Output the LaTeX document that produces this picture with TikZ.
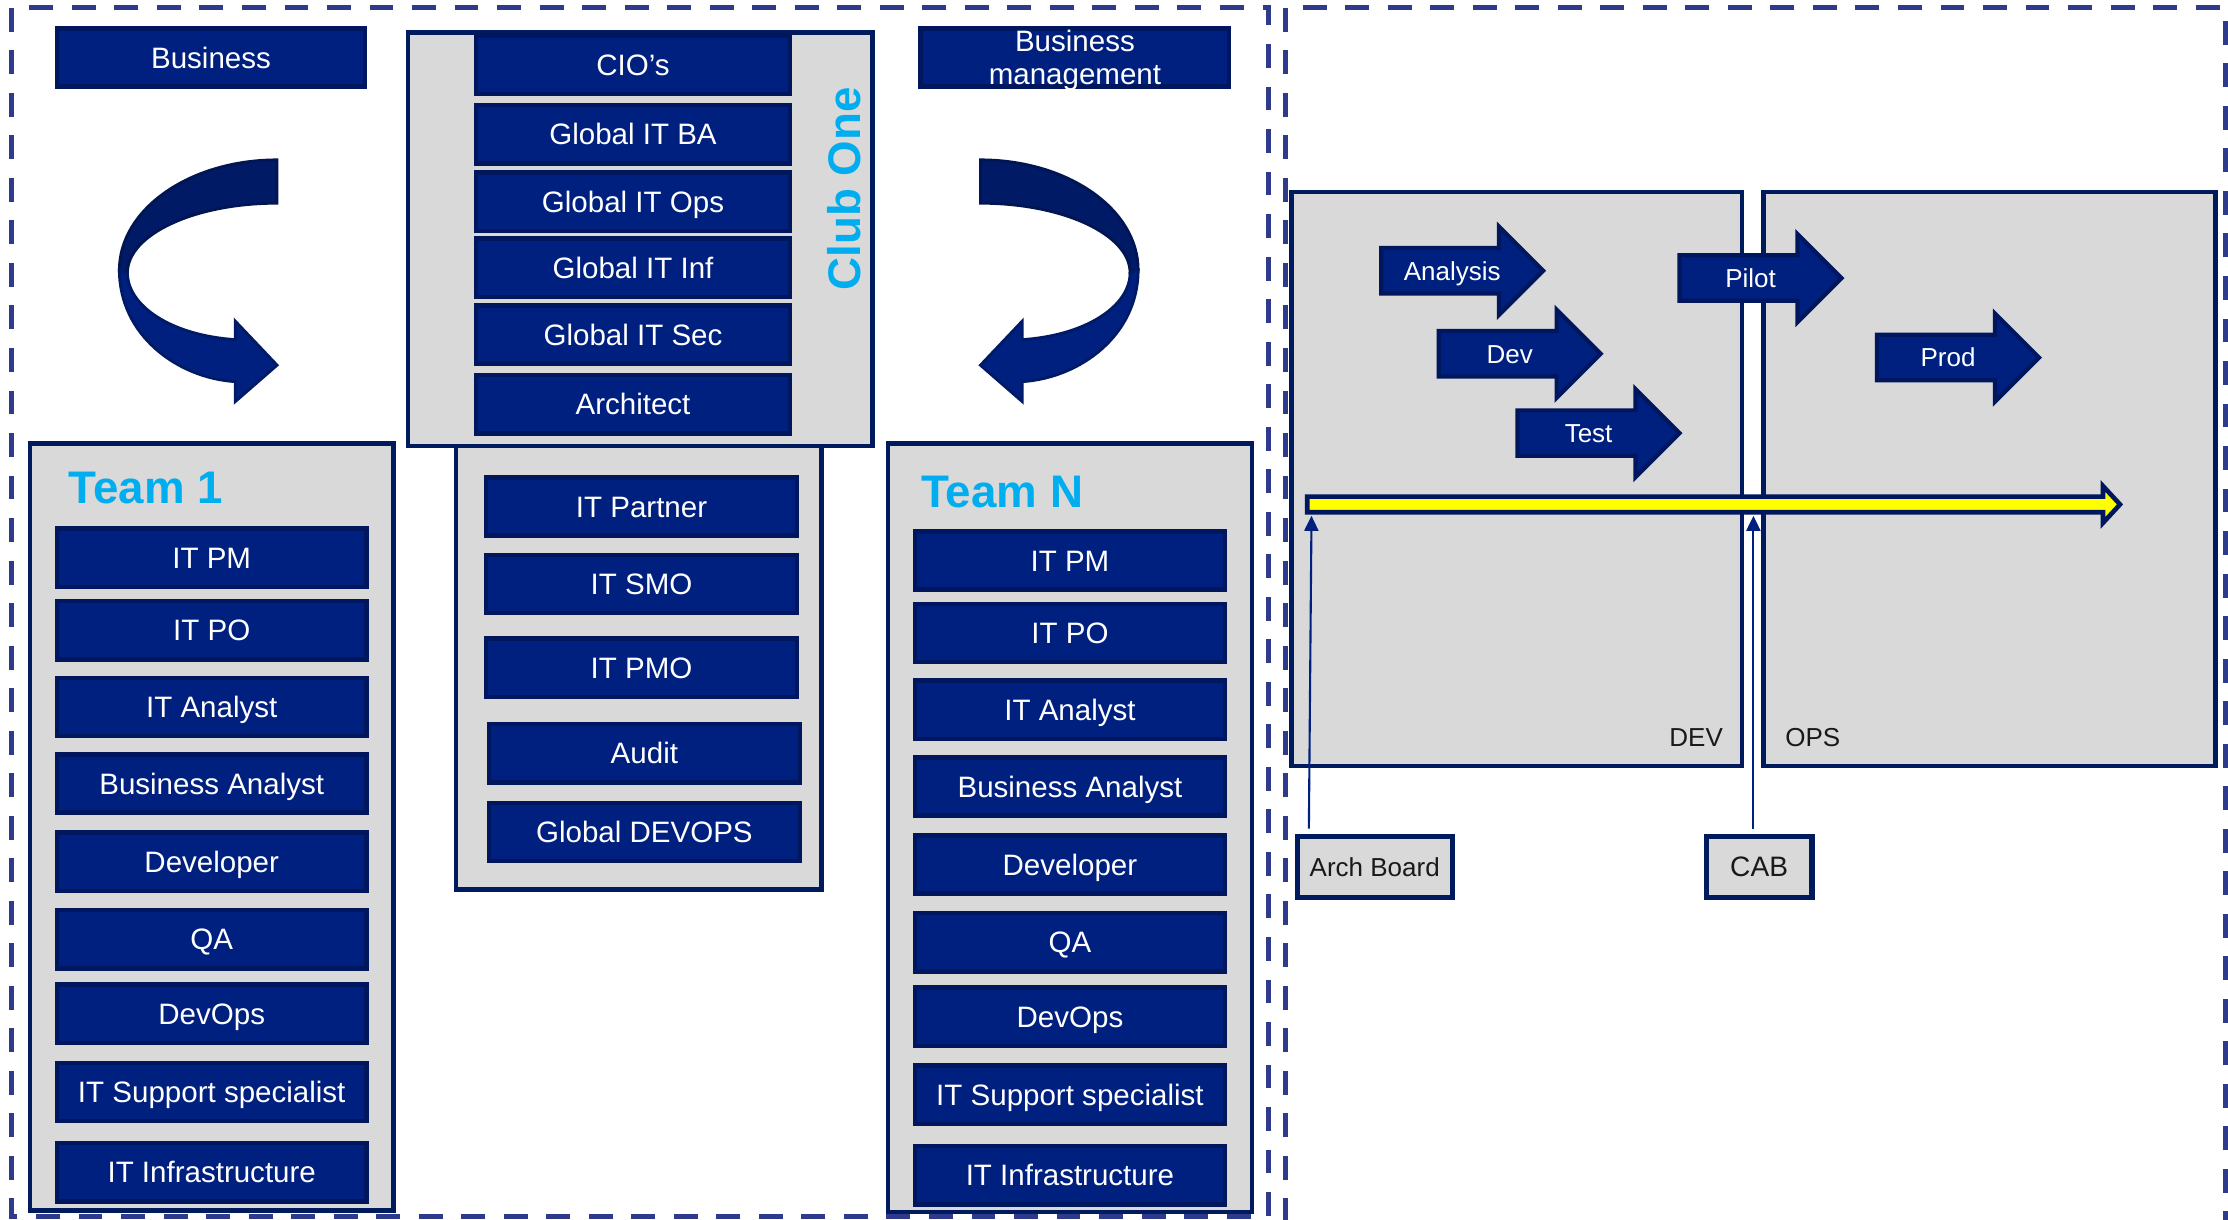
\documentclass[tikz,border=0pt]{standalone}
\usepackage{fontspec}
\setmainfont{Liberation Sans}
\usetikzlibrary{arrows.meta}
\usetikzlibrary{positioning}

\definecolor{roleblue}{HTML}{002080}
\definecolor{roleedge}{HTML}{00175E}
\definecolor{ribbondark}{HTML}{001A66}
\definecolor{panelgray}{HTML}{D9D9D9}
\definecolor{paneledge}{HTML}{001A5E}
\definecolor{teamcyan}{HTML}{00ADEF}
\definecolor{frameblue}{HTML}{2E3A8C}
\definecolor{flowyellow}{HTML}{FFFF00}

\newcommand{\pxl}{0.1421mm}

% block arrow for a phase: name, tail x, centre y, text
\newcommand{\stagearrow}[4]{%
  \draw[stage] (#2,#3-16) -- ++(83,0) -- ++(0,-15) -- ++(31,31) -- ++(-31,31) -- ++(0,-15) -- ++(-83,0) -- cycle;
  \node[stagetext] (#1) at (#2+50,#3) {#4};
}

\begin{document}
\begin{tikzpicture}[x=0.1421mm, y=-0.1421mm,
    role/.style={draw=roleedge, fill=roleblue, line width=1.3pt, text=white,
      font=\fontsize{8.4}{9.4}\selectfont, minimum width=218*\pxl,
      minimum height=41*\pxl, inner sep=0pt, align=center,
      text height=6pt, text depth=0pt},
    panel/.style={draw=paneledge, fill=panelgray, line width=1.3pt, inner sep=0pt},
    teamlabel/.style={text=teamcyan, font=\fontsize{13}{15}\bfseries\selectfont,
      anchor=base west, inner sep=0pt},
    zoneframe/.style={draw=frameblue, line width=1.4pt, dash pattern=on 6.8pt off 5.3pt},
    stage/.style={draw=roleedge, fill=roleblue, line width=1.2pt},
    stagetext/.style={text=white, font=\fontsize{7.4}{9}\selectfont, inner sep=0pt,
      text height=5.3pt, text depth=0pt},
    zonelabel/.style={text=black!90, font=\fontsize{7.4}{9}\selectfont, inner sep=0pt},
    board/.style={draw=paneledge, fill=panelgray, line width=1.5pt, text=black!90,
      inner sep=0pt, minimum height=43*\pxl, text depth=0pt},
    govarrow/.style={draw=roleblue, line width=0.6pt, -{Triangle[length=1.5mm, width=1.4mm]}},
  ]
  \useasboundingbox (0,0) rectangle (1568,858);
  \clip (0,0) rectangle (1568,858);

  % dashed zones
  \draw[zoneframe] (8,5.5) rectangle (893,856);
  \draw[zoneframe] (905,5.5) rectangle (1566,900);

  % top boxes
  \node[role, minimum width=217*\pxl] (business) at (148.5,40.5) {Business};
  \node[role, minimum width=217*\pxl, text height=15.4pt, text depth=0pt] (bizmgmt) at (756.5,40.5) {Business\\management};

  % ribbons
  \foreach \side/\mx in {0/1, 885/-1} {
    \begin{scope}[shift={(\side,0)}, xscale=\mx]
      \draw[fill=ribbondark, draw=ribbondark!80!black, line width=0.8pt]
        (195,112.5) .. controls (133.7,112.5) and (84,147.2) .. (84,190)
        -- (89.7,192) .. controls (89.7,165) and (136.9,143) .. (195,143) -- cycle;
      \draw[fill=roleblue, draw=ribbondark, line width=0.8pt]
        (84,190) .. controls (84,236) and (125,266) .. (165.6,268.6)
        -- (165.6,282.6) -- (195,257) -- (165.6,226) -- (165.6,239)
        .. controls (120,236) and (89.7,215) .. (89.7,192) -- cycle;
    \end{scope}
  }

  % teams
  \node[panel, minimum width=256*\pxl, minimum height=540*\pxl] (team1) at (149,582) {};
  \node[panel, minimum width=256*\pxl, minimum height=541*\pxl] (teamn) at (753,582.5) {};
  \node[teamlabel] (team1label) at (48,354) {Team 1};
  \node[teamlabel] (teamnlabel) at (648,357) {Team N};
  \foreach \y/\job [count=\i] in {392.5/IT PM, 443.5/IT PO, 497.5/IT Analyst,
      551.5/Business Analyst, 606.5/Developer, 661/QA, 713.5/DevOps,
      768.5/IT Support specialist, 825/IT Infrastructure} {
    \node[role] (t1-\i) at (149,\y) {\job};
    \node[role] (tn-\i) at (753,\y+2) {\job};
  }

  % shared roles
  \node[panel, minimum width=257*\pxl, minimum height=326*\pxl] (shared) at (449.5,463) {};
  \node[role, minimum width=219*\pxl] (partner) at (451.5,356.5) {IT Partner};
  \node[role, minimum width=219*\pxl] (smo) at (451.5,411) {IT SMO};
  \node[role, minimum width=219*\pxl] (pmo) at (451.5,470) {IT PMO};
  \node[role, minimum width=219*\pxl] (audit) at (453.5,530) {Audit};
  \node[role, minimum width=219*\pxl] (gdevops) at (453.5,585.5) {Global DEVOPS};

  % club one
  \node[panel, minimum width=327*\pxl, minimum height=291*\pxl] (club) at (450.5,168.5) {};
  \foreach \y/\job [count=\i] in {45.5/CIO’s, 94.5/Global IT BA, 142/Global IT Ops,
      188.5/Global IT Inf, 235.5/Global IT Sec, 284.5/Architect}
    \node[role, minimum width=221*\pxl] (club-\i) at (445.5,\y) {\job};
  \node[teamlabel, rotate=90, anchor=center] (clublabel) at (594,133) {Club One};

  % dev and ops
  \node[panel, minimum width=317*\pxl, minimum height=404*\pxl] (dev) at (1067.5,337) {};
  \node[panel, minimum width=318*\pxl, minimum height=404*\pxl] (ops) at (1400,337) {};
  \node[zonelabel, anchor=base east] (devlabel) at (1213,525.5) {DEV};
  \node[zonelabel, anchor=base west] (opslabel) at (1256,525.5) {OPS};

  \stagearrow{analysis}{972}{190.5}{Analysis}
  \stagearrow{devstage}{1012.5}{249}{Dev}
  \stagearrow{test}{1068}{304.8}{Test}
  \stagearrow{pilot}{1182}{195.7}{Pilot}
  \stagearrow{prod}{1321}{251.6}{Prod}

  % timeline
  \draw[fill=flowyellow, draw=roleedge, line width=1.3pt]
    (920,349.5) -- (1480,349.5) -- (1480,342) -- (1492,355) -- (1480,368)
    -- (1480,360.5) -- (920,360.5) -- cycle;
  \coordinate (archhit) at (923,363);
  \coordinate (cabhit) at (1234,363);

  % boards
  \node[board, minimum width=109*\pxl, font=\fontsize{7.4}{9}\selectfont] (arch) at (967.5,610) {Arch Board};
  \node[board, minimum width=74.5*\pxl, font=\fontsize{8}{9}\selectfont] (cab) at (1238,610) {CAB};
  \draw[govarrow] ([shift={(10,-3.5)}]arch.north west) -- (archhit);
  \draw[govarrow] ([yshift=0.5mm]cab.north -| cabhit) -- (cabhit);
\end{tikzpicture}
\end{document}
